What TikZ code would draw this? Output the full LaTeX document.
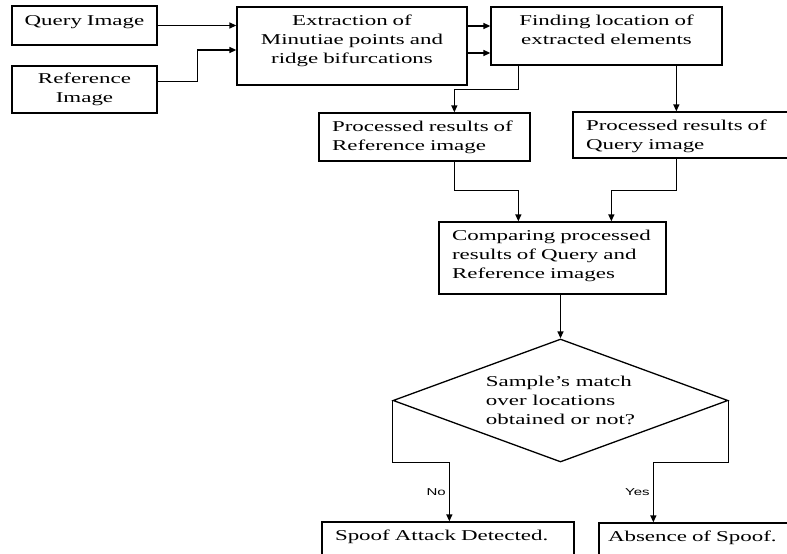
\documentclass[tikz,border=0pt]{standalone}
\usepackage{fontspec}
\setmainfont{Liberation Serif}[FakeStretch=1.53]
\newfontfamily\answerfont{Liberation Sans}[FakeStretch=1.5]
\usetikzlibrary{shapes.geometric,arrows.meta}

\begin{document}
\begin{tikzpicture}[x = 1pt, y = -1pt, line width = 1.3pt,
	>={Triangle[length=7pt,width=6pt]},
	box/.style = {draw, rectangle, inner sep = 0pt, align = center,
		font = \fontsize{15}{19}\selectfont, text height = 10pt},
	leftbox/.style = {box, inner xsep = 13pt, align = left},
	decision/.style = {draw, diamond, aspect = 2.72, inner sep = 0pt,
		minimum width = 335pt, minimum height = 123pt, align = left,
		font = \fontsize{15}{19}\selectfont},
	answer/.style = {font = \answerfont\fontsize{10}{12}\selectfont, inner sep = 3pt}]
	\clip (0,0) rectangle (787,554);
	
	\node[box, text width = 145pt, minimum height = 39pt, text depth = 11pt]
		(qimg) at (84.5,25.5) {Query Image};
	\node[box, text width = 145pt, minimum height = 47pt, text depth = 23pt]
		(refimg) at (84.5,89.5) {Reference\\Image};
	\node[box, text width = 230pt, minimum height = 78pt, text depth = 52pt]
		(ext) at (352,46) {Extraction of\\Minutiae points and\\ridge bifurcations};
	\node[box, text width = 231pt, minimum height = 58pt, text depth = 32pt]
		(find) at (606.5,36) {Finding location of\\extracted elements};
	
	\node[leftbox, text width = 185pt, minimum height = 48pt, text depth = 22pt]
		(pr) at (424.5,137) {Processed results of\\Reference image};
	\node[leftbox, text width = 214pt, minimum height = 46pt, text depth = 20pt]
		(pq) at (693,135) {Processed results of\\Query image};
	\node[leftbox, text width = 201pt, minimum height = 72pt, text depth = 46pt]
		(cmp) at (552.5,258) {Comparing processed\\results of Query and\\Reference images};
	
	\node[decision] (dia) at (560.5,400.5)
		{Sample’s match\\over locations\\obtained or not?};
	
	\node[leftbox, text width = 226pt, minimum height = 40pt, text depth = 14pt]
		(spoof) at (448,542) {Spoof Attack Detected.};
	\node[leftbox, inner xsep = 9pt, text width = 222pt, minimum height = 40pt,
		text depth = 14pt] (absn) at (719,543) {Absence of Spoof.};
	
	% images into extraction
	\draw[->] (qimg.east) -- (qimg.east -| ext.west);
	\draw[->] ([yshift = 8pt]refimg.east) -- ++(40,0) |- ([yshift = -4pt]ext.west);
	
	\coordinate (eout1) at ([yshift = 20pt]ext.east);
	\coordinate (eout2) at ([yshift = -7pt]ext.east);
	\draw[->] (eout1) -- (eout1 -| find.west);
	\draw[->] (eout2) -- (eout2 -| find.west);
	
	\coordinate (fref) at ([xshift = 28pt]find.south west);
	\coordinate (fqry) at ([xshift = 186pt]find.south west);
	\draw[->] (fref) -- ++(0,24) -| ([xshift = 136pt]pr.north west);
	\draw[->] (fqry) -- (fqry |- pq.north);
	
	\draw[->] ([xshift = 136pt]pr.south west) -- ++(0,29) -| (fref |- cmp.north);
	\draw[->] (pq.south -| fqry) -- ++(0,32) -| ([xshift = 173pt]cmp.north west);
	
	\draw[->] (cmp.south -| dia.north) -- (dia.north);
	
	% outcomes
	\draw[->] (dia.west) -- ++(0,62)
		-| node[pos = 0.75, left, answer]{No} ([xshift = 128pt]spoof.north west);
	\draw[->] (dia.east) -- ++(0,62)
		-| node[pos = 0.75, left, answer]{Yes} ([xshift = 55pt]absn.north west);
	
\end{tikzpicture}
\end{document}
